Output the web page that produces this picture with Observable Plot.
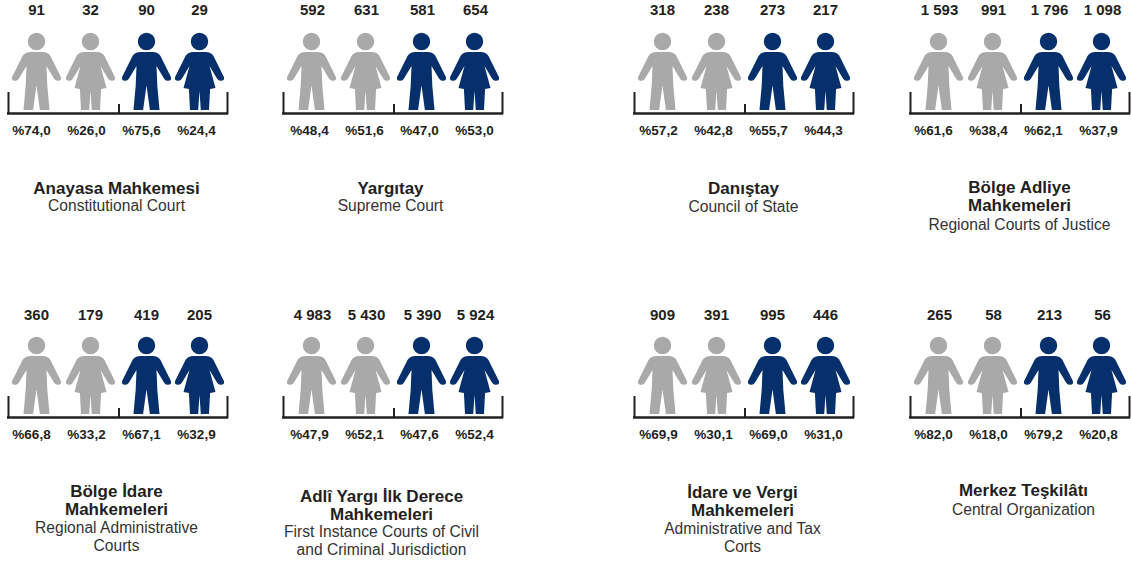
<!DOCTYPE html>
<html>
<head>
<meta charset="utf-8">
<style>html,body{margin:0;padding:0;background:#fff}svg{display:block}svg text{font-family:"Liberation Sans",Arial,sans-serif}</style>
<script src="https://cdn.jsdelivr.net/npm/d3@7"></script>
<script src="https://cdn.jsdelivr.net/npm/@observablehq/plot@0.6"></script>
</head>
<body>
<div id="chart"></div>
<script>
// ---------- data ----------
const courtTitles = [
  "Anayasa Mahkemesi", "Yargıtay", "Danıştay", "Bölge Adliye\nMahkemeleri",
  "Bölge İdare\nMahkemeleri", "Adlî Yargı İlk Derece\nMahkemeleri", "İdare ve Vergi\nMahkemeleri", "Merkez Teşkilâtı"
];
const courtSubtitles = [
  "Constitutional Court", "Supreme Court", "Council of State", "Regional Courts of Justice",
  "Regional Administrative\nCourts", "First Instance Courts of Civil\nand Criminal Jurisdiction", "Administrative and Tax\nCorts", "Central Organization"
];
const counts = [
  [91, 32, 90, 29], [592, 631, 581, 654], [318, 238, 273, 217], [1593, 991, 1796, 1098],
  [360, 179, 419, 205], [4983, 5430, 5390, 5924], [909, 391, 995, 446], [265, 58, 213, 56]
];
const shares = [
  [74.0, 26.0, 75.6, 24.4], [48.4, 51.6, 47.0, 53.0], [57.2, 42.8, 55.7, 44.3], [61.6, 38.4, 62.1, 37.9],
  [66.8, 33.2, 67.1, 32.9], [47.9, 52.1, 47.6, 52.4], [69.9, 30.1, 69.0, 31.0], [82.0, 18.0, 79.2, 20.8]
];
const periods = ["first", "first", "second", "second"];
const sexes = ["man", "woman", "man", "woman"];

// ---------- layout ----------
const colOffset = [0, 275, 626, 902];
const rowOffset = [0, 304];
const figureSlots = [36, 90, 146, 199];
const shareSlots = [31, 86, 141, 196];
const shareShift = [0, 3, 1, 0];
const countShift = [0, 1, 0, 1];
const titleX = [116, 390, 743, 1019, 116, 381, 742, 1023];
const titleY = [188, 188, 188, 196, 500, 505, 500.5, 490];
const subtitleY = [205, 205, 206, 224, 536, 540, 537, 509];

// ---------- person symbols, head centred on the anchor ----------
function head(c) {
  c.moveTo(8.7, 0);
  c.arc(0, 0, 8.7, 0, 2 * Math.PI);
  c.closePath();
}
function upperRight(c) {
  c.moveTo(-6, 10.4);
  c.lineTo(6, 10.4);
  c.quadraticCurveTo(11.5, 10.4, 14, 14.5);
  c.lineTo(24.4, 35.5);
  c.quadraticCurveTo(25.5, 39, 21.5, 39.2);
  c.quadraticCurveTo(19, 39.5, 17.5, 37);
  c.lineTo(10, 24.5);
}
function upperLeftClose(c) {
  c.lineTo(-10, 24.5);
  c.lineTo(-17.5, 37);
  c.quadraticCurveTo(-19, 39.5, -21.5, 39.2);
  c.quadraticCurveTo(-25.5, 39, -24.4, 35.5);
  c.lineTo(-14, 14.5);
  c.quadraticCurveTo(-11.5, 10.4, -6, 10.4);
  c.closePath();
}
const manSymbol = {
  draw(c) {
    head(c);
    upperRight(c);
    c.lineTo(10.8, 44);
    c.lineTo(13, 68.5);
    c.lineTo(3.4, 68.5);
    c.lineTo(0, 44);
    c.lineTo(-3.4, 68.5);
    c.lineTo(-13, 68.5);
    c.lineTo(-10.8, 44);
    upperLeftClose(c);
  }
};
const womanSymbol = {
  draw(c) {
    head(c);
    upperRight(c);
    c.lineTo(16, 46.6);
    c.lineTo(10.6, 47.6);
    c.lineTo(9.5, 68.5);
    c.lineTo(1.3, 68.5);
    c.lineTo(0, 49.5);
    c.lineTo(-1.3, 68.5);
    c.lineTo(-9.5, 68.5);
    c.lineTo(-10.6, 47.6);
    c.lineTo(-16, 46.6);
    upperLeftClose(c);
  }
};

// ---------- tables built from the arrays ----------
const panels = courtTitles.map((title, i) => ({
  i, title, subtitle: courtSubtitles[i], col: i % 4, row: i < 4 ? 0 : 1,
  dx: colOffset[i % 4], dy: rowOffset[i < 4 ? 0 : 1]
}));
const people = panels.flatMap(p => counts[p.i].map((count, k) => ({
  ...p, k, count, share: shares[p.i][k], period: periods[k], sex: sexes[k]
})));
const fmtCount = n => d3.format(",")(n).replace(/,/g, " ");
const fmtShare = v => "%" + v.toFixed(1).replace(".", ",");

const ink = "#231f20";
const labelFont = {fontFamily: "Liberation Sans", textAnchor: "middle"};

const chart = Plot.plot({
  width: 1131,
  height: 562,
  margin: 0,
  style: {background: "#fff", fontFamily: "Liberation Sans"},
  x: {domain: [0, 1131], range: [0, 1131], axis: null},
  y: {domain: [0, 562], range: [0, 562], axis: null},
  color: {domain: ["first", "second"], range: ["#a9a9a9", "#05306b"]},
  marks: [
    Plot.dot(people.filter(d => d.sex === "man"), {
      x: d => d.dx + figureSlots[d.k], y: d => d.dy + 41,
      symbol: manSymbol, r: 1, fill: "period", stroke: "none"
    }),
    Plot.dot(people.filter(d => d.sex === "woman"), {
      x: d => d.dx + figureSlots[d.k], y: d => d.dy + 41,
      symbol: womanSymbol, r: 1, fill: "period", stroke: "none"
    }),
    // brackets
    Plot.ruleY(panels, {x1: d => d.dx + 7, x2: d => d.dx + 228, y: d => d.dy + 113, stroke: ink, strokeWidth: 2.4}),
    Plot.ruleX(panels, {x: d => d.dx + 8, y1: d => d.dy + 92, y2: d => d.dy + 114, stroke: ink, strokeWidth: 2}),
    Plot.ruleX(panels, {x: d => d.dx + 118.5, y1: d => d.dy + 104, y2: d => d.dy + 114, stroke: ink, strokeWidth: 2}),
    Plot.ruleX(panels, {x: d => d.dx + 227, y1: d => d.dy + 92, y2: d => d.dy + 114, stroke: ink, strokeWidth: 2}),
    // counts and shares
    Plot.text(people, {
      ...labelFont, x: d => d.dx + figureSlots[d.k] + countShift[d.col], y: d => d.dy + 10 + d.row,
      text: d => fmtCount(d.count), fontSize: 15, fontWeight: "bold", fill: ink
    }),
    Plot.text(people, {
      ...labelFont, x: d => d.dx + shareSlots[d.k] + shareShift[d.col], y: d => d.dy + 130,
      text: d => fmtShare(d.share), fontSize: 13.5, fontWeight: "bold", fill: ink
    }),
    // court names
    Plot.text(panels, {
      ...labelFont, x: d => titleX[d.i], y: d => titleY[d.i], lineAnchor: "middle",
      text: "title", fontSize: 17, lineHeight: 1.06, fontWeight: "bold", fill: ink
    }),
    Plot.text(panels, {
      ...labelFont, x: d => titleX[d.i], y: d => subtitleY[d.i], lineAnchor: "middle",
      text: "subtitle", fontSize: 15.6, lineHeight: 1.14, fill: "#333"
    })
  ]
});
document.getElementById("chart").append(chart);
</script>
</body>
</html>
